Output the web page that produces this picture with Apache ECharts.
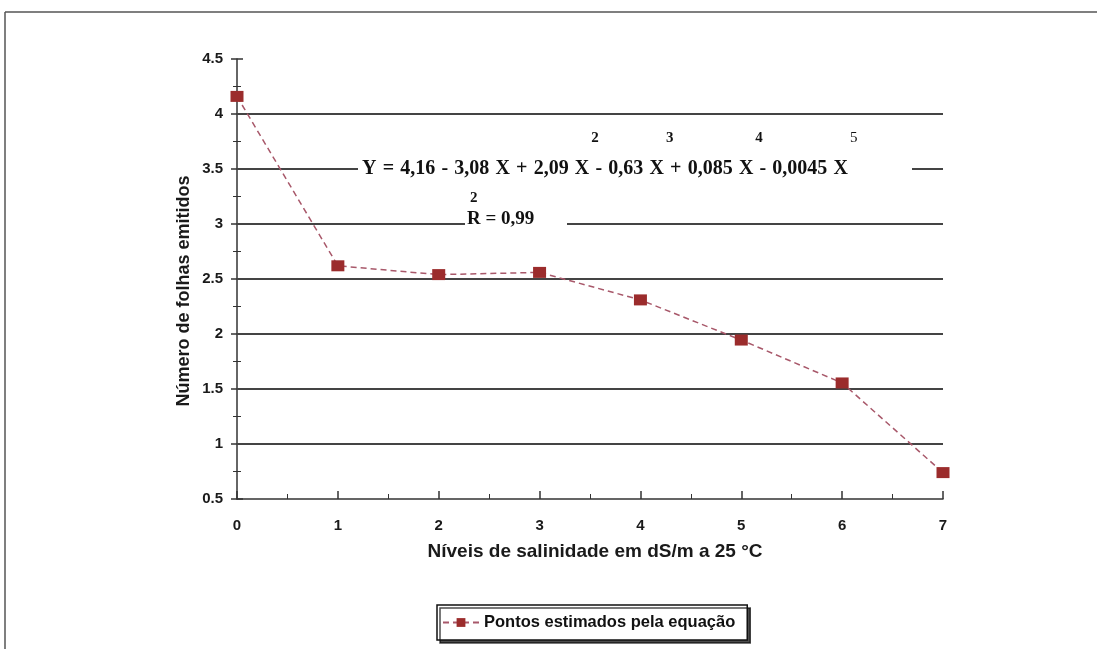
<!DOCTYPE html>
<html><head><meta charset="utf-8">
<script src="https://cdn.jsdelivr.net/npm/echarts@6/dist/echarts.min.js"></script>
<style>html,body{margin:0;padding:0;background:#fff}#c{width:1097px;height:649px}</style>
</head><body><div id="c"></div>
<script>
// Data
const xLevels = [0, 1, 2, 3, 4, 5, 6, 7];
const estimatedLeaves = [4.16, 2.62, 2.54, 2.56, 2.31, 1.945, 1.555, 0.74];
const gridValues = [1, 1.5, 2, 2.5, 3, 3.5, 4];
const seriesName = 'Pontos estimados pela equação';
const xTitle = 'Níveis de salinidade em dS/m a 25 °C';
const yTitle = 'Número de folhas emitidos';
const equationText = 'Y = 4,16 - 3,08 X + 2,09 X - 0,63 X + 0,085 X - 0,0045 X';
const equationPowers = ['', '2', '3', '4', '5']; // exponent of each successive X
const r2Text = 'R = 0,99';

const chart = echarts.init(document.getElementById('c'));
const sans = '"Liberation Sans", Arial, sans-serif';
const serif = '"Liberation Serif", "Times New Roman", serif';
const axisCol = '#333';
const txtCol = '#1a1a1a';

const pts = xLevels.map((x, i) => [x, estimatedLeaves[i]]);

// lay out the equation tokens evenly between two pixel edges
const eqFont = 'bold 20px ' + serif;
const ctx = document.createElement('canvas').getContext('2d');
ctx.font = eqFont;
const tokens = equationText.split(' ');
const widths = tokens.map(t => ctx.measureText(t).width);
const eqLeft = 362, eqRight = 848;
const gap = (eqRight - eqLeft - widths.reduce((a, b) => a + b, 0)) / (tokens.length - 1);
const eqGraphics = [];
let cx = eqLeft, xCount = 0;
tokens.forEach((t, i) => {
  eqGraphics.push({ type: 'text', x: cx, y: 169, z: 4,
    style: { text: t, font: eqFont, fill: '#111', textVerticalAlign: 'middle', textAlign: 'left' } });
  if (t === 'X') {
    const p = equationPowers[xCount++];
    if (p) eqGraphics.push({ type: 'text', x: cx + widths[i] + 2, y: 138, z: 4,
      style: { text: p, font: (p === '5' ? '' : 'bold ') + '15px ' + serif, fill: '#111', textVerticalAlign: 'middle' } });
  }
  cx += widths[i] + gap;
});

chart.setOption({
  animation: false,
  backgroundColor: '#fff',
  grid: { left: 237, right: 154, top: 59, bottom: 150 },
  xAxis: {
    type: 'value', min: 0, max: 7, interval: 1,
    axisLine: { lineStyle: { color: axisCol, width: 1.5 } },
    axisTick: { inside: true, length: 8, lineStyle: { color: axisCol, width: 1.5 } },
    minorTick: { show: true, splitNumber: 2, length: 5, lineStyle: { color: axisCol, width: 1 } },
    axisLabel: { margin: 19, fontFamily: sans, fontWeight: 'bold', fontSize: 15, color: txtCol },
    splitLine: { show: false }
  },
  yAxis: [{
    type: 'value', min: 0.5, max: 4.5, interval: 0.5,
    axisLine: { show: true, lineStyle: { color: axisCol, width: 1.5 } },
    axisTick: { show: true, length: 6, lineStyle: { color: axisCol, width: 1.5 } },
    minorTick: { show: true, splitNumber: 2, length: 4, lineStyle: { color: axisCol } },
    axisLabel: { margin: 14, fontFamily: sans, fontWeight: 'bold', fontSize: 15, color: txtCol,
      formatter: v => String(v) },
    splitLine: { show: false }
  }, {
    type: 'value', min: 0.5, max: 4.5, interval: 0.5, position: 'left',
    axisLine: { show: false },
    axisTick: { show: true, inside: true, length: 6, lineStyle: { color: axisCol, width: 1.5 } },
    minorTick: { show: true, splitNumber: 2, length: 4, lineStyle: { color: axisCol } },
    axisLabel: { show: false },
    splitLine: { show: false }
  }],
  legend: {
    left: 437, top: 605, width: 330,
    padding: [9, 12, 9, 5],
    borderColor: '#111', borderWidth: 1.5, borderRadius: 0,
    shadowColor: 'rgba(0,0,0,0.7)', shadowOffsetX: 3, shadowOffsetY: 3, shadowBlur: 0,
    backgroundColor: '#fff',
    itemWidth: 36, itemHeight: 11, itemGap: 5,
    textStyle: { fontFamily: sans, fontWeight: 'bold', fontSize: 16.5, color: '#111' },
    data: [seriesName]
  },
  series: [{
    name: seriesName, type: 'line', data: pts,
    symbol: 'rect', symbolSize: [13, 11],
    itemStyle: { color: '#9b2c2c' },
    lineStyle: { color: '#a8586a', width: 1.5, type: [6, 4] },
    z: 5,
    markLine: {
      silent: true, symbol: 'none', label: { show: false },
      lineStyle: { color: '#444', width: 1.8, type: 'solid' },
      data: gridValues.map(v => ({ yAxis: v })),
      z: 1
    }
  }],
  graphic: [
    { type: 'line', shape: { x1: 5, y1: 12, x2: 1097, y2: 12 }, style: { stroke: '#555', lineWidth: 1.5 } },
    { type: 'line', shape: { x1: 5, y1: 12, x2: 5, y2: 649 }, style: { stroke: '#555', lineWidth: 1.5 } },
    { type: 'rect', shape: { x: 358, y: 158, width: 554, height: 22 }, style: { fill: '#fff' }, z: 3 },
    { type: 'rect', shape: { x: 465, y: 213, width: 102, height: 22 }, style: { fill: '#fff' }, z: 3 },
    ...eqGraphics,
    { type: 'text', x: 467, y: 219, z: 4,
      style: { text: r2Text, font: 'bold 19px ' + serif, fill: '#111', textVerticalAlign: 'middle' } },
    { type: 'text', x: 470, y: 198, z: 4,
      style: { text: '2', font: 'bold 15px ' + serif, fill: '#111', textVerticalAlign: 'middle' } },
    { type: 'text', x: 595, y: 552, z: 4,
      style: { text: xTitle, font: 'bold 19px ' + sans, fill: txtCol, textAlign: 'center', textVerticalAlign: 'middle' } },
    { type: 'text', x: 184, y: 291, rotation: Math.PI / 2, z: 4,
      style: { text: yTitle, font: 'bold 18px ' + sans, fill: txtCol, textAlign: 'center', textVerticalAlign: 'middle' } }
  ]
});
</script></body></html>
